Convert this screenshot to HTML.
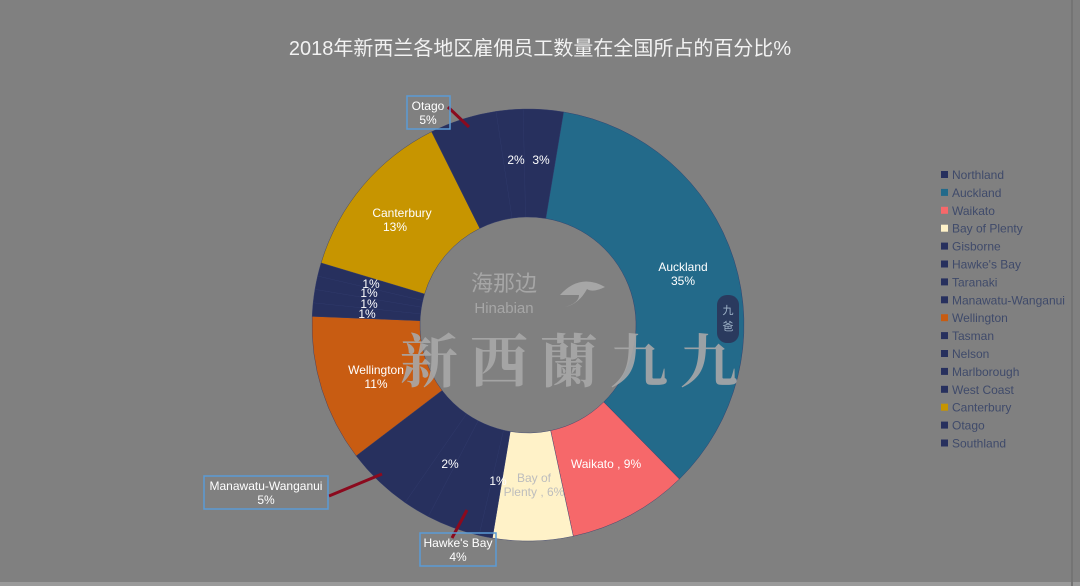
<!DOCTYPE html>
<html><head><meta charset="utf-8"><style>
html,body{margin:0;padding:0;background:#808080;}
body{width:1080px;height:586px;overflow:hidden;position:relative;font-family:"Liberation Sans","Noto Sans CJK SC",sans-serif;}
svg{position:absolute;left:0;top:0;}
</style></head><body>
<svg id="s" width="1080" height="586" xmlns="http://www.w3.org/2000/svg">
<rect x="0" y="0" width="1080" height="586" fill="#808080"/>
<rect x="0" y="582" width="1080" height="4" fill="#9a9a9a"/>
<line x1="1072" y1="0" x2="1072" y2="586" stroke="#747474" stroke-width="2"/>
<text x="540" y="55" text-anchor="middle" font-size="20" fill="#f2f2f2" font-family="Liberation Sans, Noto Sans CJK SC, sans-serif">2018年新西兰各地区雇佣员工数量在全国所占的百分比%</text>
<g id="pie"></g>
<g font-size="12" fill="#ffffff" text-anchor="middle" font-family="Liberation Sans, sans-serif">
<text x="402" y="217">Canterbury</text><text x="395" y="231">13%</text>
<text x="683" y="271">Auckland</text><text x="683" y="285">35%</text>
<text x="376" y="374">Wellington</text><text x="376" y="388">11%</text>
<text x="606" y="468">Waikato , 9%</text>
<text x="534" y="482" fill="#bdbdbd">Bay of</text><text x="534" y="496" fill="#bdbdbd">Plenty , 6%</text>
<text x="450" y="468">2%</text><text x="498" y="485">1%</text>
<text x="516" y="164">2%</text><text x="541" y="164">3%</text>
<text x="371" y="288">1%</text><text x="369" y="297">1%</text><text x="369" y="308">1%</text><text x="367" y="318">1%</text>
</g>
<g fill="#a6a6a6" text-anchor="middle">
<text x="504" y="291" font-size="22" font-family="Noto Sans CJK SC, sans-serif">海那边</text>
<text x="504" y="313" font-size="15">Hinabian</text>
<text x="575" y="382" font-size="58" fill="#a8a8a8" font-weight="bold" opacity="0.9" font-family="Noto Serif CJK SC, serif" letter-spacing="12">新西蘭九九</text>
</g>
<path d="M560 295 q20 -22 45 -8 q-12 6 -18 2 q-8 15 -22 18 q14 -4 14 -12 z" fill="#a6a6a6"/>
<rect x="717" y="295" width="22" height="48" rx="10" fill="#2a3a5e"/>
<text x="728" y="314" font-size="11" fill="#9fb3c8" text-anchor="middle" font-family="Noto Sans CJK SC, sans-serif">九</text>
<text x="728" y="330" font-size="11" fill="#9fb3c8" text-anchor="middle" font-family="Noto Sans CJK SC, sans-serif">爸</text>
<g stroke="#8b0a1e" stroke-width="3">
<line x1="448" y1="107" x2="469" y2="127"/>
<line x1="329" y1="496" x2="382" y2="474"/>
<line x1="452" y1="538" x2="467" y2="510"/>
</g>
<g fill="none" stroke="#5b9bd5" stroke-width="1.5">
<rect x="407" y="96" width="43" height="33"/>
<rect x="204" y="476" width="124" height="33"/>
<rect x="420" y="533" width="76" height="33"/>
</g>
<g font-size="12" fill="#ffffff" text-anchor="middle">
<text x="428" y="110">Otago</text><text x="428" y="124">5%</text>
<text x="266" y="490">Manawatu-Wanganui</text><text x="266" y="504">5%</text>
<text x="458" y="547">Hawke's Bay</text><text x="458" y="561">4%</text>
</g>
<g id="leg" font-size="12" fill="#3f4a6a"></g>
</svg>
<script>
var data=[["Northland",3,"#27305e"],["Auckland",35,"#236a8a"],["Waikato",9,"#f6686a"],["Bay of Plenty",6,"#fff2c8"],["Gisborne",1,"#27305e"],["Hawke's Bay",4,"#27305e"],["Taranaki",2,"#27305e"],["Manawatu-Wanganui",5,"#27305e"],["Wellington",11,"#c85c12"],["Tasman",1,"#27305e"],["Nelson",1,"#27305e"],["Marlborough",1,"#27305e"],["West Coast",1,"#27305e"],["Canterbury",13,"#c79500"],["Otago",5,"#27305e"],["Southland",2,"#27305e"]];
var cx=528,cy=325,R=216,r=108,a=-1.3,ns="http://www.w3.org/2000/svg",g=document.getElementById("pie");
function pt(ang,rad){var t=(ang-90)*Math.PI/180;return [cx+rad*Math.cos(t),cy+rad*Math.sin(t)];}
data.forEach(function(d){var s=a,e=a+d[1]*3.6;a=e;var p1=pt(s,R),p2=pt(e,R),p3=pt(e,r),p4=pt(s,r),lg=(e-s)>180?1:0;
var p=document.createElementNS(ns,"path");p.setAttribute("d","M"+p1+" A"+R+" "+R+" 0 "+lg+" 1 "+p2+" L"+p3+" A"+r+" "+r+" 0 "+lg+" 0 "+p4+"Z");
p.setAttribute("fill",d[2]);p.setAttribute("stroke","#2e386b");p.setAttribute("stroke-width","0.4");g.appendChild(p);});
var L=document.getElementById("leg");
data.forEach(function(d,i){var y=176+i*17.9;var q=document.createElementNS(ns,"rect");q.setAttribute("x",941);q.setAttribute("y",y-5);q.setAttribute("width",7);q.setAttribute("height",7);q.setAttribute("fill",d[2]);L.appendChild(q);
var t=document.createElementNS(ns,"text");t.setAttribute("x",952);t.setAttribute("y",y+3);t.textContent=d[0];L.appendChild(t);});
</script>
</body></html>
